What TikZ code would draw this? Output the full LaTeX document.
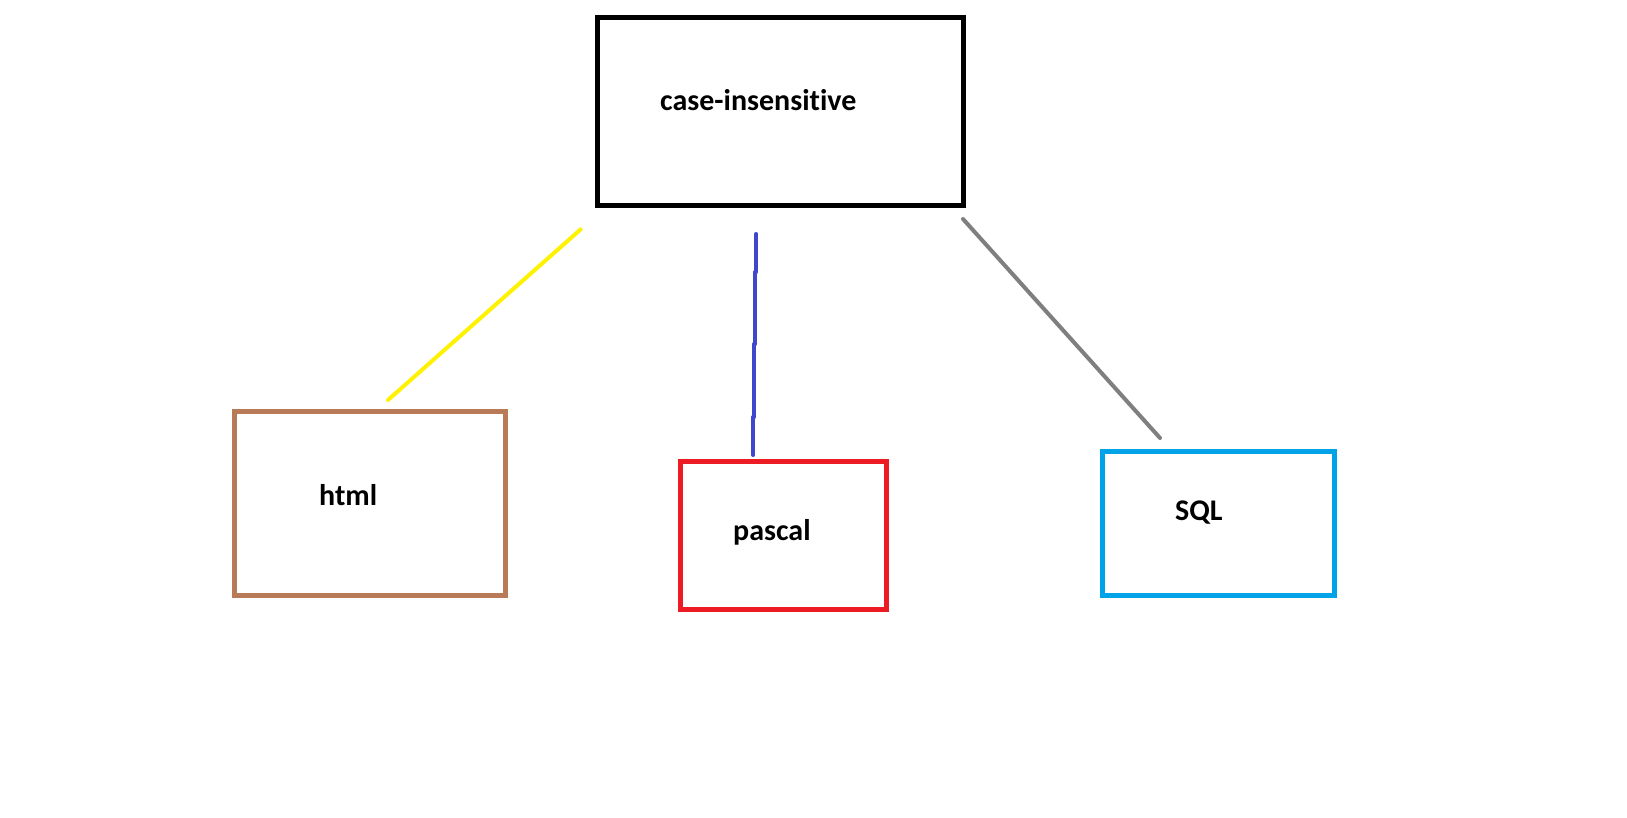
\documentclass[tikz,border=0pt]{standalone}
\usepackage{fontspec}
\setmainfont{Carlito}[Ligatures=NoCommon]
\begin{document}
\begin{tikzpicture}[x=1pt,y=-1pt,
  box/.style={draw, line width=5pt, inner sep=0pt, minimum width=#1},
  lbl/.style={anchor=base west, inner sep=0pt, font=\fontsize{30}{36}\selectfont\bfseries},
  conn/.style={line width=4pt, line cap=round, line join=round}]
\definecolor{pbrown}{HTML}{B97A57}
\definecolor{pred}{HTML}{ED1C24}
\definecolor{pblue}{HTML}{00A2E8}
\definecolor{pyellow}{HTML}{FFF200}
\definecolor{pgray}{HTML}{7F7F7F}
\definecolor{pindigo}{HTML}{3F48CC}
\useasboundingbox[fill=white] (0,0) rectangle (1627,818);

\node[box=365.8pt, minimum height=187.7pt, draw=black] (top) at (780.4,111.35) {};
\node[box=270.5pt, minimum height=184pt, draw=pbrown] (html) at (369.75,503.5) {};
\node[box=205.8pt, minimum height=147.8pt, draw=pred] (pascal) at (783.4,535.4) {};
\node[box=232pt, minimum height=144pt, draw=pblue] (sql) at (1218.5,523.5) {};

\node[lbl] (ttop) at (660,111) {case-insensitive};
\node[lbl] (thtml) at (319,505) {html};
\node[lbl] (tpascal) at (733,540) {pascal};
\node[lbl] (tsql) at (1175,520) {SQL};

\coordinate (y1) at (580.7,229.3);
\coordinate (y2) at (388,400);
\coordinate (b1) at (756.3,234);
\coordinate (b2) at (756.3,272);
\coordinate (b3) at (755.3,272);
\coordinate (b4) at (755.3,344);
\coordinate (b5) at (754.3,344);
\coordinate (b6) at (754.3,417);
\coordinate (b7) at (753.3,417);
\coordinate (b8) at (753.3,455);
\coordinate (g1) at (963,219);
\coordinate (g2) at (1160,438);

\draw[conn, pyellow] (y1) -- (y2);
\draw[conn, pindigo] (b1) -- (b2) (b3) -- (b4) (b5) -- (b6) (b7) -- (b8);
\draw[conn, pgray] (g1) -- (g2);
\end{tikzpicture}
\end{document}
